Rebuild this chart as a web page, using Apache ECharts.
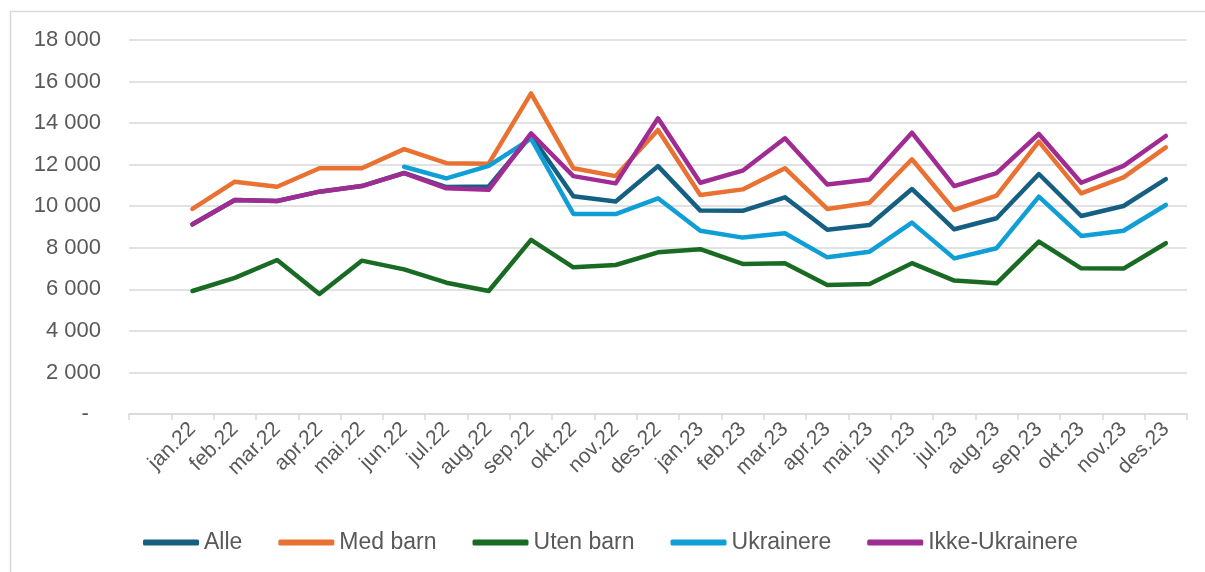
<!DOCTYPE html>
<html>
<head>
<meta charset="utf-8">
<script src="https://cdn.jsdelivr.net/npm/echarts@6/dist/echarts.min.js"></script>
<style>
  html, body { margin: 0; padding: 0; background: #fff; }
  #chart { width: 1205px; height: 572px; }
</style>
</head>
<body>
<div id="chart"></div>
<script>
// first category is empty in the original chart
const maaneder = ['', 'jan.22', 'feb.22', 'mar.22', 'apr.22', 'mai.22', 'jun.22', 'jul.22', 'aug.22', 'sep.22', 'okt.22', 'nov.22', 'des.22',
    'jan.23', 'feb.23', 'mar.23', 'apr.23', 'mai.23', 'jun.23', 'jul.23', 'aug.23', 'sep.23', 'okt.23', 'nov.23', 'des.23'];

const alle = [null, 9130, 10300, 10250, 10700, 10970, 11600, 10920, 10950, 13400, 10480, 10230, 11930,
    9790, 9780, 10430, 8870, 9100, 10830, 8890, 9420, 11550, 9530, 10010, 11300];
const medBarn = [null, 9870, 11180, 10940, 11830, 11830, 12750, 12070, 12050, 15430, 11830, 11450, 13670,
    10540, 10810, 11830, 9870, 10170, 12260, 9820, 10510, 13110, 10620, 11390, 12830];
const utenBarn = [null, 5920, 6550, 7410, 5780, 7380, 6960, 6320, 5920, 8380, 7060, 7170, 7780,
    7930, 7220, 7250, 6210, 6260, 7260, 6420, 6290, 8300, 7010, 7000, 8220];
const ukrainere = [null, null, null, null, null, null, 11900, 11340, 11940, 13250, 9630, 9620, 10380,
    8820, 8490, 8700, 7540, 7810, 9210, 7490, 7980, 10460, 8570, 8820, 10060];
const ikkeUkrainere = [null, 9130, 10300, 10250, 10700, 10970, 11590, 10860, 10790, 13510, 11450, 11100, 14230,
    11130, 11710, 13270, 11050, 11290, 13540, 10970, 11590, 13480, 11130, 11940, 13380];

const navn = ['Alle', 'Med barn', 'Uten barn', 'Ukrainere', 'Ikke-Ukrainere'];
const farger = ['#156082', '#E97132', '#196B24', '#0F9ED5', '#A02B93'];
const serier = [alle, medBarn, utenBarn, ukrainere, ikkeUkrainere];

const font = '"Liberation Sans", Arial, sans-serif';
const tekstFarge = '#595959';
const linjeFarge = '#d9d9d9';

const chart = echarts.init(document.getElementById('chart'));

function tall(v) {
    if (v === 0) return '-  ';
    return String(v).replace(/\B(?=(\d{3})+(?!\d))/g, ' ');
}

chart.setOption({
    animation: false,
    color: farger,
    graphic: [{
        type: 'rect',
        shape: { x: 10.5, y: 11.5, width: 1400, height: 800 },
        style: { fill: 'none', stroke: linjeFarge, lineWidth: 1.5 },
        silent: true
    }],
    grid: { left: 129, right: 18, top: 40, bottom: 158, outerBoundsMode: 'none' },
    legend: {
        data: navn,
        left: 138,
        top: 526,
        icon: 'roundRect',
        itemWidth: 56,
        itemHeight: 6,
        itemGap: 36,
        textStyle: { fontFamily: font, fontSize: 23, color: tekstFarge }
    },
    xAxis: {
        type: 'category',
        data: maaneder,
        boundaryGap: true,
        axisLine: { lineStyle: { color: linjeFarge, width: 1.5 } },
        axisTick: { show: true, length: 6, lineStyle: { color: linjeFarge, width: 1.5 } },
        axisLabel: {
            interval: 0,
            rotate: 45,
            margin: 12,
            fontFamily: font,
            fontSize: 21,
            color: tekstFarge
        }
    },
    yAxis: {
        type: 'value',
        min: 0,
        max: 18000,
        interval: 2000,
        axisLine: { show: false },
        axisTick: { show: false },
        splitLine: { lineStyle: { color: linjeFarge, width: 1.5 } },
        axisLabel: {
            margin: 28,
            fontFamily: font,
            fontSize: 22,
            color: tekstFarge,
            formatter: tall
        }
    },
    series: serier.map((data, i) => ({
        name: navn[i],
        type: 'line',
        data: data,
        symbol: 'none',
        connectNulls: false,
        lineStyle: { width: 4.5, color: farger[i], cap: 'round', join: 'round' },
        itemStyle: { color: farger[i] }
    }))
});
</script>
</body>
</html>
